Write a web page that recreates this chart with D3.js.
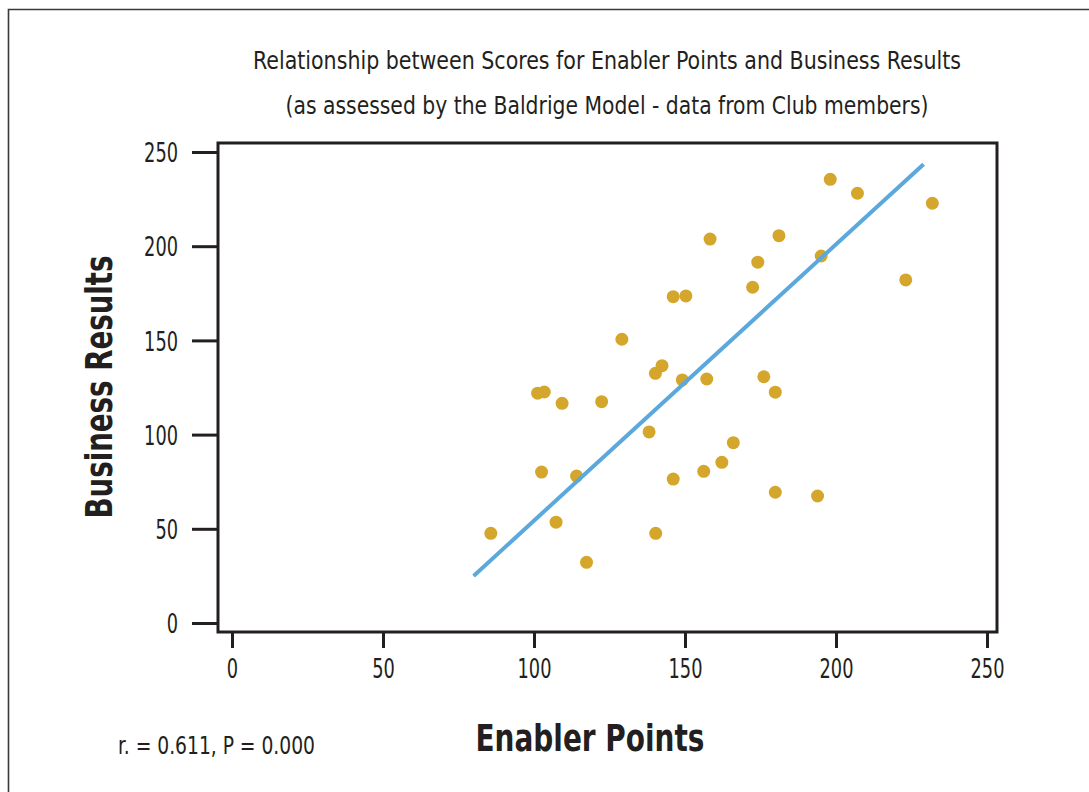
<html>
<head>
<meta charset="utf-8">
<title>Enabler Points vs Business Results</title>
<style>
  body { margin: 0; background: #fff; }
  text { font-family: "Liberation Sans Narrow", "DejaVu Sans Condensed", sans-serif; fill: #231f20; }
</style>
<script src="https://d3js.org/d3.v7.min.js"></script>
</head>
<body>
<svg width="1089" height="792"></svg>
<script>
// scores
var enabler = [85.7, 101.2, 103.4, 102.5, 107.3, 109.3, 114.1, 117.4, 122.4, 129.1,
               138.1, 140.2, 142.4, 140.3, 146.1, 150.3, 146.1, 149.1, 156.2, 157.2,
               158.3, 162.2, 166.0, 172.4, 174.1, 176.1, 179.9, 179.9, 181.1, 193.9,
               195.1, 198.1, 207.1, 223.1, 231.9];
var results = [47.6, 122.0, 122.6, 80.1, 53.5, 116.6, 78.0, 32.2, 117.5, 150.6,
               101.4, 132.5, 136.6, 47.6, 173.2, 173.6, 76.4, 129.0, 80.5, 129.5,
               203.8, 85.3, 95.7, 178.2, 191.5, 130.7, 122.5, 69.4, 205.6, 67.4,
               194.8, 235.5, 228.1, 182.1, 222.8];
var fitX = [80, 229];       // ends of fitted line
var fitY = [25, 243.5];
var ticks = [0, 50, 100, 150, 200, 250];
var titleLines = ["Relationship between Scores for Enabler Points and Business Results",
                  "(as assessed by the Baldrige Model - data from Club members)"];
var stats = "r. = 0.611, P = 0.000";

var svg = d3.select("svg");
var dark = "#231f20";

// outer frame (top + left only)
svg.append("path")
    .attr("d", "M8.5,792 V9.5 H1089")
    .attr("fill", "none")
    .attr("stroke", "#3a3a3a")
    .attr("stroke-width", 1.6);

var x = d3.scaleLinear().domain([0, 250]).range([232, 987]),
    y = d3.scaleLinear().domain([0, 250]).range([623, 152]);

// title
svg.selectAll(".title")
    .data(titleLines)
    .enter().append("text")
        .attr("class", "title")
        .attr("x", 607)
        .attr("y", (d, i) => 69 + i * 45)
        .attr("text-anchor", "middle")
        .style("font-size", "25px")
        .attr("textLength", (d, i) => i == 0 ? 708 : 643)
        .attr("lengthAdjust", "spacingAndGlyphs")
        .text(d => d);

// tick labels are narrow in the original
function narrow(sel) {
    sel.style("font-size", "27px")
        .attr("textLength", d => String(d).length * 11.3)
        .attr("lengthAdjust", "spacingAndGlyphs");
}

// axes
var yAx = svg.append("g")
    .attr("transform", "translate(218,0)")
    .call(d3.axisLeft(y).tickValues(ticks).tickSize(26).tickSizeOuter(0).tickPadding(14));
yAx.select(".domain").remove();
yAx.selectAll("line").attr("stroke", dark).attr("stroke-width", 3);
yAx.selectAll("text").call(narrow).attr("dy", "0.36em");

var xAx = svg.append("g")
    .attr("transform", "translate(0,632)")
    .call(d3.axisBottom(x).tickValues(ticks).tickSize(16).tickSizeOuter(0).tickPadding(11));
xAx.select(".domain").remove();
xAx.selectAll("line").attr("stroke", dark).attr("stroke-width", 3);
xAx.selectAll("text").call(narrow);

// plot frame
svg.append("rect")
    .attr("x", 218).attr("y", 143)
    .attr("width", 997 - 218).attr("height", 632 - 143)
    .attr("fill", "none")
    .attr("stroke", dark)
    .attr("stroke-width", 3);

// points
svg.append("g").selectAll("circle")
    .data(enabler)
    .enter().append("circle")
        .attr("cx", d => x(d))
        .attr("cy", (d, i) => y(results[i]))
        .attr("r", 6.5)
        .attr("fill", "#d4a72c");

// regression line
svg.append("line")
    .attr("x1", x(fitX[0])).attr("y1", y(fitY[0]))
    .attr("x2", x(fitX[1])).attr("y2", y(fitY[1]))
    .attr("stroke", "#5ba8dc")
    .attr("stroke-width", 4);

// axis titles
svg.append("text")
    .attr("transform", "translate(112,387) rotate(-90)")
    .attr("text-anchor", "middle")
    .style("font-size", "38px")
    .style("font-weight", "bold")
    .attr("textLength", 263)
    .attr("lengthAdjust", "spacingAndGlyphs")
    .text("Business Results");

svg.append("text")
    .attr("x", 590).attr("y", 751)
    .attr("text-anchor", "middle")
    .style("font-size", "38px")
    .style("font-weight", "bold")
    .attr("textLength", 229)
    .attr("lengthAdjust", "spacingAndGlyphs")
    .text("Enabler Points");

svg.append("text")
    .attr("x", 118).attr("y", 754)
    .style("font-size", "24px")
    .attr("textLength", 197)
    .attr("lengthAdjust", "spacingAndGlyphs")
    .text(stats);
</script>
</body>
</html>
